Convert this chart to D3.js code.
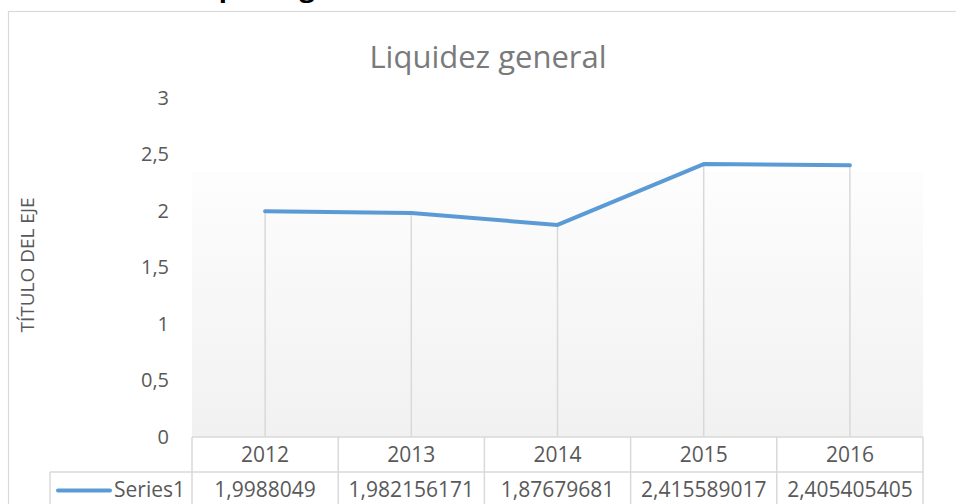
<!DOCTYPE html>
<html>
<head>
<meta charset="utf-8">
<script src="https://cdn.jsdelivr.net/npm/d3@7"></script>
<style>
  body { margin: 0; background: #fff; }
  svg { display: block; font-family: "Open Sans", sans-serif; }
</style>
</head>
<body>
<svg id="chart" width="956" height="504"></svg>
<script>
// Data
const years = ["2012", "2013", "2014", "2015", "2016"];
const values = [1.9988049, 1.982156171, 1.87679681, 2.415589017, 2.405405405];
const valueLabels = ["1,9988049", "1,982156171", "1,87679681", "2,415589017", "2,405405405"];
const yTicks = [0, 0.5, 1, 1.5, 2, 2.5, 3];
const seriesName = "Series1";

const svg = d3.select("#chart");
const blue = "#5b9bd5";
const gridColor = "#d9d9d9";

// Scales
const x = d3.scaleBand().domain(years).range([192, 923]).padding(0);
const y = d3.scaleLinear().domain([0, 3]).range([437, 98]);

// Heading cut off at top of the page
svg.append("text")
    .attr("x", 135)
    .attr("y", -3)
    .attr("font-weight", "bold")
    .attr("font-size", 27)
    .attr("fill", "#000")
    .text("Descripción general");

// Chart border
svg.append("rect")
    .attr("x", 8.5)
    .attr("y", 11.5)
    .attr("width", 1000)
    .attr("height", 600)
    .attr("fill", "none")
    .attr("stroke", gridColor)
    .attr("stroke-width", 1.2);

// Plot area gradient
const defs = svg.append("defs");
const grad = defs.append("linearGradient")
    .attr("id", "plotGrad")
    .attr("x1", 0).attr("y1", 0).attr("x2", 0).attr("y2", 1);
grad.append("stop").attr("offset", "0%").attr("stop-color", "#fdfdfd");
grad.append("stop").attr("offset", "100%").attr("stop-color", "#f1f1f1");

svg.append("rect")
    .attr("x", x.range()[0])
    .attr("y", y(2.345))
    .attr("width", x.range()[1] - x.range()[0])
    .attr("height", y(0) - y(2.345))
    .attr("fill", "url(#plotGrad)");

// Title
svg.append("text")
    .attr("x", 488)
    .attr("y", 68)
    .attr("text-anchor", "middle")
    .attr("font-size", 31)
    .attr("fill", "#7a7a7a")
    .text("Liquidez general");

// Y axis
const yAxis = d3.axisLeft(y)
    .tickValues(yTicks)
    .tickSize(0)
    .tickPadding(0)
    .tickFormat(d => String(d).replace(".", ","));

const yg = svg.append("g")
    .attr("transform", "translate(169,0)")
    .call(yAxis);
yg.select(".domain").remove();
yg.selectAll("text")
    .attr("font-family", "Open Sans, sans-serif")
    .attr("font-size", 20)
    .attr("fill", "#595959");

// Axis title
svg.append("text")
    .attr("transform", `translate(34, ${265}) rotate(-90)`)
    .attr("text-anchor", "middle")
    .attr("font-size", 19)
    .attr("fill", "#595959")
    .text("TÍTULO DEL EJE");

// Drop lines
svg.append("g")
    .selectAll("line")
    .data(years)
    .join("line")
    .attr("x1", d => x(d) + x.bandwidth() / 2)
    .attr("x2", d => x(d) + x.bandwidth() / 2)
    .attr("y1", (d, i) => y(values[i]))
    .attr("y2", y(0))
    .attr("stroke", gridColor)
    .attr("stroke-width", 1.5);

// Line
const line = d3.line()
    .x((d, i) => x(years[i]) + x.bandwidth() / 2)
    .y(d => y(d));

svg.append("path")
    .datum(values)
    .attr("d", line)
    .attr("fill", "none")
    .attr("stroke", blue)
    .attr("stroke-width", 4)
    .attr("stroke-linejoin", "round")
    .attr("stroke-linecap", "round");

// Data table
const row1Top = y(0), rowH = 35;
const row2Top = row1Top + rowH;
const tableLeft = 50;
const tbl = svg.append("g")
    .attr("stroke", gridColor)
    .attr("stroke-width", 1.5);

tbl.append("line")
    .attr("x1", x.range()[0]).attr("x2", x.range()[1])
    .attr("y1", row1Top).attr("y2", row1Top);
tbl.append("line")
    .attr("x1", tableLeft).attr("x2", x.range()[1])
    .attr("y1", row2Top).attr("y2", row2Top);
tbl.append("line")
    .attr("x1", tableLeft).attr("x2", x.range()[1])
    .attr("y1", row2Top + rowH).attr("y2", row2Top + rowH);
tbl.append("line")
    .attr("x1", tableLeft).attr("x2", tableLeft)
    .attr("y1", row2Top).attr("y2", row2Top + rowH);

const edges = years.map(d => x(d)).concat([x.range()[1]]);
tbl.selectAll(".col")
    .data(edges)
    .join("line")
    .attr("class", "col")
    .attr("x1", d => d).attr("x2", d => d)
    .attr("y1", row1Top).attr("y2", row2Top + rowH);

// Year labels
svg.append("g")
    .selectAll("text")
    .data(years)
    .join("text")
    .attr("x", d => x(d) + x.bandwidth() / 2)
    .attr("y", row1Top + rowH / 2)
    .attr("dy", "0.35em")
    .attr("text-anchor", "middle")
    .attr("font-size", 21)
    .attr("fill", "#595959")
    .text(d => d);

// Value labels
svg.append("g")
    .selectAll("text")
    .data(valueLabels)
    .join("text")
    .attr("x", (d, i) => x(years[i]) + x.bandwidth() / 2)
    .attr("y", row2Top + rowH / 2)
    .attr("dy", "0.35em")
    .attr("text-anchor", "middle")
    .attr("font-size", 21)
    .attr("fill", "#595959")
    .text(d => d);

// Legend key in table
svg.append("line")
    .attr("x1", 58).attr("x2", 110)
    .attr("y1", row2Top + rowH / 2 + 1).attr("y2", row2Top + rowH / 2 + 1)
    .attr("stroke", blue)
    .attr("stroke-width", 4)
    .attr("stroke-linecap", "round");

svg.append("text")
    .attr("x", 114)
    .attr("y", row2Top + rowH / 2)
    .attr("dy", "0.35em")
    .attr("font-size", 21)
    .attr("fill", "#595959")
    .text(seriesName);
</script>
</body>
</html>
